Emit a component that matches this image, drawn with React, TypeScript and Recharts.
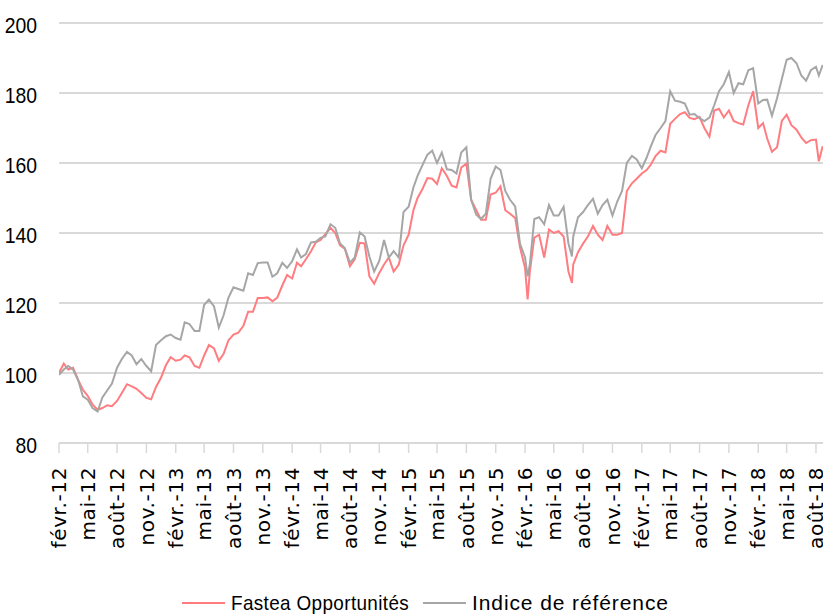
import React from 'react';
import { LineChart, Line, XAxis, YAxis, CartesianGrid, Legend } from 'recharts';

// half-monthly readings, plus a few dips (feb-16, brexit, aug-18)
const dates = [
  '2012-02-01', '2012-02-16', '2012-03-01', '2012-03-16', '2012-04-01', '2012-04-16', '2012-05-01', '2012-05-16',
  '2012-06-01', '2012-06-16', '2012-07-01', '2012-07-16', '2012-08-01', '2012-08-16', '2012-09-01', '2012-09-16',
  '2012-10-01', '2012-10-16', '2012-11-01', '2012-11-16', '2012-12-01', '2012-12-16',
  '2013-01-01', '2013-01-16', '2013-02-01', '2013-02-16', '2013-03-01', '2013-03-16', '2013-04-01', '2013-04-16',
  '2013-05-01', '2013-05-16', '2013-06-01', '2013-06-16', '2013-07-01', '2013-07-16', '2013-08-01', '2013-08-16',
  '2013-09-01', '2013-09-16', '2013-10-01', '2013-10-16', '2013-11-01', '2013-11-16', '2013-12-01', '2013-12-16',
  '2014-01-01', '2014-01-16', '2014-02-01', '2014-02-16', '2014-03-01', '2014-03-16', '2014-04-01', '2014-04-16',
  '2014-05-01', '2014-05-16', '2014-06-01', '2014-06-16', '2014-07-01', '2014-07-16', '2014-08-01', '2014-08-16',
  '2014-09-01', '2014-09-16', '2014-10-01', '2014-10-16', '2014-11-01', '2014-11-16', '2014-12-01', '2014-12-16',
  '2015-01-01', '2015-01-16', '2015-02-01', '2015-02-16', '2015-03-01', '2015-03-16', '2015-04-01', '2015-04-16',
  '2015-05-01', '2015-05-16', '2015-06-01', '2015-06-16', '2015-07-01', '2015-07-16', '2015-08-01', '2015-08-16',
  '2015-09-01', '2015-09-16', '2015-10-01', '2015-10-16', '2015-11-01', '2015-11-16', '2015-12-01', '2015-12-16',
  '2016-01-01', '2016-01-16', '2016-02-01', '2016-02-09', '2016-02-16', '2016-03-01', '2016-03-16', '2016-04-01',
  '2016-04-16', '2016-05-01', '2016-05-16', '2016-06-01', '2016-06-16', '2016-06-27', '2016-07-01', '2016-07-16',
  '2016-08-01', '2016-08-16', '2016-09-01', '2016-09-16', '2016-10-01', '2016-10-16', '2016-11-01', '2016-11-16',
  '2016-12-01', '2016-12-16',
  '2017-01-01', '2017-01-16', '2017-02-01', '2017-02-16', '2017-03-01', '2017-03-16', '2017-04-01', '2017-04-16',
  '2017-05-01', '2017-05-16', '2017-06-01', '2017-06-16', '2017-07-01', '2017-07-16', '2017-08-01', '2017-08-16',
  '2017-09-01', '2017-09-16', '2017-10-01', '2017-10-16', '2017-11-01', '2017-11-16', '2017-12-01', '2017-12-16',
  '2018-01-01', '2018-01-16', '2018-02-01', '2018-02-16', '2018-03-01', '2018-03-16', '2018-04-01', '2018-04-16',
  '2018-05-01', '2018-05-16', '2018-06-01', '2018-06-16', '2018-07-01', '2018-07-16', '2018-08-01', '2018-08-10',
  '2018-08-22',
];

const fastea = [
  100, 102.7, 101, 101.5, 98, 95.2, 93.5, 91, 89.5, 90, 90.8, 90.5, 92, 94.3, 96.8, 96.2, 95.5, 94.3, 92.9, 92.5, 96, 98.5,
  102.2, 104.5, 103.5, 103.8, 105, 104.5, 102, 101.5, 105, 108, 107, 103.5, 105.5, 109.3, 111, 111.5, 113.5, 117.5, 117.5,
  121.4, 121.4, 121.6, 120.5, 121.5,
  125, 128, 127, 131.5, 130.5, 132.5, 134.8, 137.3, 138, 139.7, 141.5, 140, 136.5, 135.5, 130.5, 132.5, 137.2, 137, 127.6,
  125.5, 128.6, 131, 133, 129,
  131, 136.5, 139.5, 146.5, 150, 152.5, 155.7, 155.5, 154, 158.5, 156.3, 153.5, 153, 158.7, 159.8, 149.5, 146.5, 143.8,
  143.8, 151, 151.5, 153.3, 146.5, 145.5,
  144.3, 136, 130, 121, 129, 138.7, 139.5, 133, 141, 140, 140.5, 139, 129, 125.7, 131, 134.5, 137, 139, 142, 139.5, 138,
  142, 139.5, 139.5, 140, 152,
  154.2, 155.5, 157, 158, 159.5, 162, 163.5, 163, 171.2, 172.6, 174, 174.5, 172.9, 172.5, 173.2, 170, 167.5, 175, 175.5,
  173, 175, 172, 171.4, 171,
  176.5, 180.5, 170, 171.4, 167, 163.2, 164.5, 172, 173.8, 170.8, 169.5, 167.3, 165.7, 166.5, 166.7, 160.5, 164.8,
];

const indice = [
  99.5, 101, 102, 101, 98, 93.3, 92.4, 90, 89, 93, 95, 97, 101.5, 104, 106, 105, 102.5, 104, 102, 100.5, 108, 109.3,
  110.5, 111, 110, 109.5, 114.5, 114, 112, 112, 119.5, 121, 119, 113, 116.5, 121.5, 124.5, 124, 123.5, 128.5, 128, 131.4,
  131.6, 131.6, 127.5, 128.5,
  131.5, 130, 132, 135.3, 133, 134, 137.3, 137.5, 138.6, 139, 142.5, 141.5, 137, 135.7, 131.5, 133, 140.2, 139, 133.3, 129,
  132, 138, 133, 134.8,
  133, 146, 147.5, 153, 156.3, 159.3, 162.4, 163.5, 160, 163, 158.2, 158, 157, 163, 164.5, 149.5, 145.2, 144, 145.5,
  155.5, 159, 158, 152, 149.5,
  147.6, 137, 133, 127.6, 131, 144, 144.5, 142.5, 148, 145, 145, 147.5, 137, 133.3, 139, 144.5, 146, 148, 149.8, 145.5,
  148, 149.5, 145, 149, 152, 160,
  162, 161, 158.5, 161.5, 164.7, 168, 170, 172, 180.5, 177.8, 177.5, 177, 173.8, 174, 172.8, 172, 173, 176.5, 180.5,
  182.5, 186, 180, 182.8, 182.5,
  186.5, 187.1, 177, 178, 178.1, 173.5, 178.5, 184, 189.5, 190, 188.5, 185, 183.5, 186.5, 187.5, 185, 188,
];

const tickDates = [
  '2012-02-01', '2012-05-01', '2012-08-01', '2012-11-01', '2013-02-01', '2013-05-01', '2013-08-01', '2013-11-01',
  '2014-02-01', '2014-05-01', '2014-08-01', '2014-11-01', '2015-02-01', '2015-05-01', '2015-08-01', '2015-11-01',
  '2016-02-01', '2016-05-01', '2016-08-01', '2016-11-01', '2017-02-01', '2017-05-01', '2017-08-01', '2017-11-01',
  '2018-02-01', '2018-05-01', '2018-08-01',
];
const tickLabels = [
  'févr.-12', 'mai-12', 'août-12', 'nov.-12', 'févr.-13', 'mai-13', 'août-13', 'nov.-13',
  'févr.-14', 'mai-14', 'août-14', 'nov.-14', 'févr.-15', 'mai-15', 'août-15', 'nov.-15',
  'févr.-16', 'mai-16', 'août-16', 'nov.-16', 'févr.-17', 'mai-17', 'août-17', 'nov.-17',
  'févr.-18', 'mai-18', 'août-18',
];
const yTicks = [80, 100, 120, 140, 160, 180, 200];

const FASTEA_COLOR = '#FF7C80';
const INDICE_COLOR = '#A6A6A6';
const GRID_COLOR = '#D9D9D9';
const SANS = '"Liberation Sans", Arial, sans-serif';

const data = dates.map((d, i) => ({
  t: Date.parse(d),
  fastea: fastea[i],
  indice: indice[i],
}));

const ticks = tickDates.map((d) => Date.parse(d));
const labelFor = (t: number) => tickLabels[ticks.indexOf(t)] ?? '';

const DateTick = (props: any) => {
  const { x, y, payload } = props;
  return (
    <g transform={`translate(${x},${y + 14})`}>
      <text
        transform="rotate(-90)"
        textAnchor="end"
        dy="0.36em"
        fontFamily='"DejaVu Sans", sans-serif'
        fontSize={20}
        letterSpacing={0.6}
        fill="#000"
      >
        {labelFor(payload.value)}
      </text>
    </g>
  );
};

// narrow-looking value labels (squeezed horizontally)
const ValueTick = (props: any) => {
  const { x, y, payload } = props;
  return (
    <text
      transform={`translate(${x},${y + 2}) scale(0.88,1)`}
      textAnchor="end"
      dy="0.355em"
      fontFamily={SANS}
      fontSize={22}
      fill="#000"
    >
      {payload.value}
    </text>
  );
};

const legendItems = [
  { name: 'Fastea Opportunités', color: FASTEA_COLOR, width: 241, spacing: 0.4, squeeze: 0.9 },
  { name: 'Indice de référence', color: INDICE_COLOR, width: 260, spacing: 0.9, squeeze: 1 },
];

const renderLegend = () => (
  <div style={{ display: 'flex', alignItems: 'center', paddingLeft: 182, paddingTop: 14, height: 26 }}>
    {legendItems.map((it) => (
      <div key={it.name} style={{ display: 'flex', alignItems: 'center', width: it.width }}>
        <div style={{ width: 43, height: 2, background: it.color, marginRight: 6, flex: 'none' }} />
        <span
          style={{
            display: 'inline-block',
            whiteSpace: 'nowrap',
            fontFamily: SANS,
            fontSize: 21,
            color: '#000',
            letterSpacing: it.spacing,
            transform: `scaleX(${it.squeeze})`,
            transformOrigin: 'left center',
          }}
        >
          {it.name}
        </span>
      </div>
    ))}
  </div>
);

export default function App() {
  return (
    <div style={{ position: 'absolute', left: 0, top: 0, width: 823, height: 616, overflow: 'hidden', background: '#fff' }}>
      <LineChart width={823} height={616} data={data} margin={{ top: 23, right: 0, bottom: 0, left: 0 }}>
        <CartesianGrid vertical={false} stroke={GRID_COLOR} strokeWidth={2} />
        <XAxis
          dataKey="t"
          type="number"
          domain={[Date.parse('2012-02-01'), Date.parse('2018-08-23')]}
          ticks={ticks}
          interval={0}
          height={133}
          axisLine={{ stroke: GRID_COLOR, strokeWidth: 2 }}
          tickLine={{ stroke: GRID_COLOR, strokeWidth: 1.5 }}
          tickSize={10}
          tickMargin={0}
          tick={<DateTick />}
          allowDataOverflow
        />
        <YAxis
          domain={[80, 200]}
          ticks={yTicks}
          width={59}
          axisLine={false}
          tickLine={false}
          tickSize={0}
          tickMargin={22}
          tick={<ValueTick />}
          allowDataOverflow
        />
        <Legend verticalAlign="bottom" height={40} content={renderLegend} />
        <Line
          type="linear"
          dataKey="fastea"
          name="Fastea Opportunités"
          stroke={FASTEA_COLOR}
          strokeWidth={2}
          dot={false}
          isAnimationActive={false}
        />
        <Line
          type="linear"
          dataKey="indice"
          name="Indice de référence"
          stroke={INDICE_COLOR}
          strokeWidth={2}
          dot={false}
          isAnimationActive={false}
        />
      </LineChart>
    </div>
  );
}
